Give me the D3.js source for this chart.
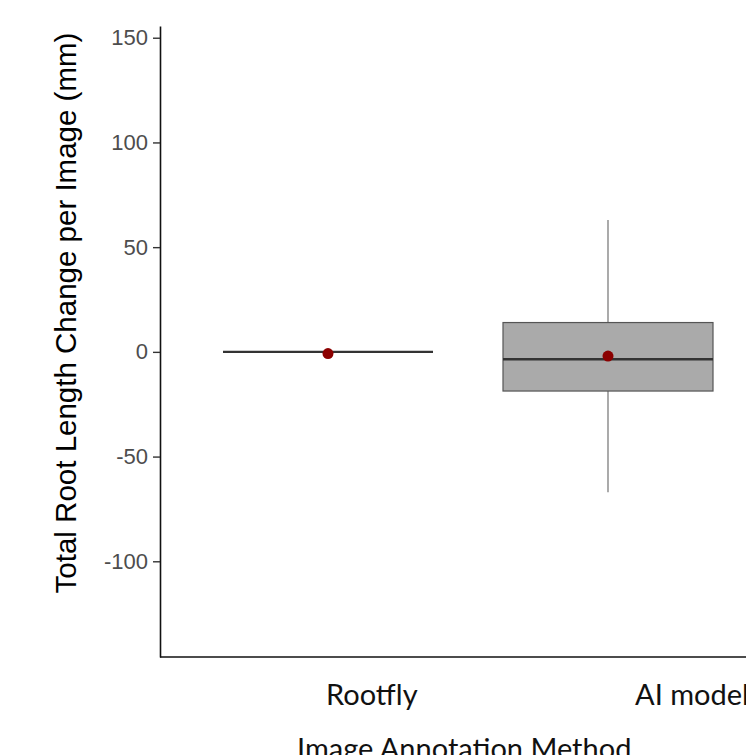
<!DOCTYPE html>
<html>
<head>
<meta charset="utf-8">
<script src="https://cdn.jsdelivr.net/npm/d3@7"></script>
<style>
  html, body { margin: 0; padding: 0; background: #fff; }
  svg { display: block; }
</style>
</head>
<body>
<svg id="chart"></svg>
<script>
'use strict';

// data
const categories = ['Rootfly', 'AI model'];
const whiskerLow = [0, -67];
const q1 = [0, -18.7];
const median = [0, -3.5];
const q3 = [0, 14];
const whiskerHigh = [0, 63];
const means = [-0.8, -2];
const yTicks = [-100, -50, 0, 50, 100, 150];

const W = 746, H = 755;
const panel = { left: 160, top: 26, right: 776, bottom: 657 };

const svg = d3.select('#chart')
  .attr('width', W)
  .attr('height', H);

const x = d3.scalePoint()
  .domain(categories)
  .range([panel.left, panel.right])
  .padding(0.6);

const y = d3.scaleLinear()
  .domain([-145.7, 155.6])
  .range([panel.bottom, panel.top]);

const boxW = x.step() * 0.75;

const rows = categories.map((c, i) => ({
  cat: c,
  lo: whiskerLow[i], q1: q1[i], med: median[i], q3: q3[i], hi: whiskerHigh[i], mean: means[i]
}));

const g = svg.append('g');

// whiskers
g.selectAll('.whisker')
  .data(rows.filter(d => d.hi > d.lo))
  .enter()
  .append('path')
  .attr('class', 'whisker')
  .attr('d', d => 'M' + x(d.cat) + ',' + y(d.hi) + 'V' + y(d.q3) + 'M' + x(d.cat) + ',' + y(d.q1) + 'V' + y(d.lo))
  .attr('stroke', '#666')
  .attr('stroke-width', 1.1)
  .attr('fill', 'none');

// boxes
g.selectAll('.box')
  .data(rows)
  .enter()
  .append('rect')
  .attr('class', 'box')
  .attr('x', d => x(d.cat) - boxW / 2)
  .attr('width', boxW)
  .attr('y', d => y(d.q3))
  .attr('height', d => y(d.q1) - y(d.q3))
  .attr('fill', '#aaaaaa')
  .attr('stroke', '#555')
  .attr('stroke-width', 1.2);

// medians
g.selectAll('.median')
  .data(rows)
  .enter()
  .append('line')
  .attr('class', 'median')
  .attr('x1', d => x(d.cat) - boxW / 2)
  .attr('x2', d => x(d.cat) + boxW / 2)
  .attr('y1', d => y(d.med))
  .attr('y2', d => y(d.med))
  .attr('stroke', '#333')
  .attr('stroke-width', 2.4);

// means
g.selectAll('.mean')
  .data(rows)
  .enter()
  .append('circle')
  .attr('class', 'mean')
  .attr('cx', d => x(d.cat))
  .attr('cy', d => y(d.mean))
  .attr('r', 5.5)
  .attr('fill', '#8b0000');

// y axis
const yAxis = svg.append('g')
  .attr('transform', 'translate(' + panel.left + ',0)')
  .call(d3.axisLeft(y).tickValues(yTicks).tickFormat(d => String(d)).tickSize(7).tickPadding(5).tickSizeOuter(0));

yAxis.select('.domain').attr('stroke', '#111').attr('stroke-width', 1.6);
yAxis.selectAll('.tick line').attr('stroke', '#333').attr('stroke-width', 1.4);
yAxis.selectAll('.tick text')
  .attr('fill', '#4d4d4d')
  .style('font-family', '"Liberation Sans", Arial, sans-serif')
  .style('font-size', '22px');

// x axis line only
const xAxis = svg.append('g')
  .attr('transform', 'translate(0,' + panel.bottom + ')')
  .call(d3.axisBottom(x).tickSize(0).tickFormat('').tickSizeOuter(0));
xAxis.select('.domain')
  .attr('d', 'M' + panel.left + ',0H' + panel.right)
  .attr('stroke', '#111')
  .attr('stroke-width', 1.6);

// category labels (placed like the pasted-in labels of the original)
const labelShift = { 'Rootfly': -2, 'AI model': 27 };
svg.selectAll('.xlab')
  .data(categories)
  .enter()
  .append('text')
  .attr('class', 'xlab')
  .attr('x', d => x(d) + labelShift[d])
  .attr('y', 705)
  .attr('text-anchor', 'start')
  .style('font-family', 'Lato, "Open Sans", sans-serif')
  .style('font-size', '29px')
  .attr('fill', '#111')
  .text(d => d);

svg.append('text')
  .attr('x', 297)
  .attr('y', 759)
  .style('font-family', 'Lato, "Open Sans", sans-serif')
  .style('font-size', '29px')
  .attr('fill', '#111')
  .text('Image Annotation Method');

svg.append('text')
  .attr('transform', 'translate(76,' + 313 + ') rotate(-90)')
  .attr('text-anchor', 'middle')
  .style('font-family', '"Liberation Sans", Arial, sans-serif')
  .style('font-size', '29.5px')
  .attr('fill', '#000')
  .text('Total Root Length Change per Image (mm)');
</script>
</body>
</html>
